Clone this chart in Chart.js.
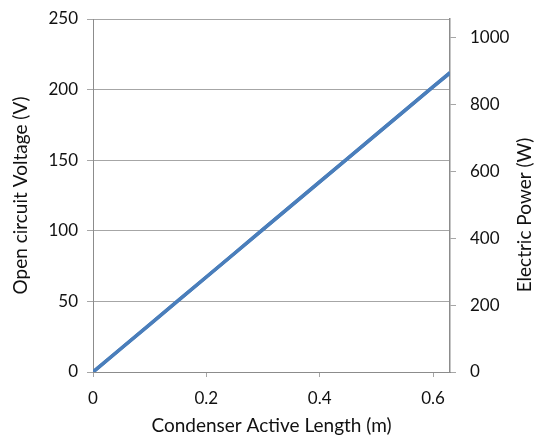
<!DOCTYPE html>
<html>
<head>
<meta charset="utf-8">
<script src="https://cdn.jsdelivr.net/npm/chart.js@4"></script>
<style>
  html,body{margin:0;padding:0;background:#fff;}
  #wrap{width:535px;height:437px;}
</style>
</head>
<body>
<div id="wrap"><canvas id="chart" width="535" height="437"></canvas></div>
<script>
// condenser active length (m)
const lengths = [0, 0.05, 0.1, 0.15, 0.2, 0.25, 0.3, 0.35, 0.4, 0.45, 0.5, 0.55, 0.6, 0.63];
// open circuit voltage (V)
const voltage = [0, 16.8, 33.6, 50.5, 67.3, 84.1, 101, 117.8, 134.6, 151.4, 168.3, 185.1, 202, 212];
// electric power (W)
const power = [0, 71, 142, 213, 284, 355, 426, 497, 568, 639, 710, 781, 852, 894];

const xTicks = [0, 0.2, 0.4, 0.6];
const leftTicks = [0, 50, 100, 150, 200, 250];
const rightTicks = [0, 200, 400, 600, 800, 1000];

const GRAY = "#a6a6a6";
const AXIS = "#8c8c8c";
const BLUE = "#4a7ebb";
const FONT = "Lato, 'Open Sans', sans-serif";
const TXT = "#111";

// right-hand title reads bottom-to-top like the left one
const rightTitle = {
  id: "rightTitle",
  afterDraw(c){
    const ctx = c.ctx;
    ctx.save();
    ctx.translate(525, 215);
    ctx.rotate(-Math.PI/2);
    ctx.font = "19px " + FONT;
    ctx.fillStyle = TXT;
    ctx.textAlign = "center";
    ctx.textBaseline = "middle";
    ctx.fillText("Electric Power (W)", 0, 0);
    ctx.restore();
  }
};

new Chart(document.getElementById("chart"), {
  type: "line",
  data: {
    datasets: [
      {label: "Voltage", data: lengths.map((x,i)=>({x, y: voltage[i]})), yAxisID: "y",
       borderColor: BLUE, backgroundColor: BLUE, borderWidth: 3.5, pointRadius: 0, tension: 0},
      {label: "Power", data: lengths.map((x,i)=>({x, y: power[i]})), yAxisID: "y2",
       borderColor: BLUE, backgroundColor: BLUE, borderWidth: 3.5, pointRadius: 0, tension: 0}
    ]
  },
  options: {
    responsive: false,
    animation: false,
    layout: {padding: {top: 19, left: 0, right: 0, bottom: 0}},
    plugins: {legend: {display: false}, tooltip: {enabled: false}},
    scales: {
      x: {
        type: "linear", min: 0, max: 0.63,
        afterBuildTicks: a => { a.ticks = xTicks.map(v => ({value: v})); },
        afterFit: s => { s.height = 65; },
        grid: {drawOnChartArea: false, drawTicks: true, tickLength: 5, color: GRAY},
        border: {color: AXIS, width: 1},
        ticks: {color: TXT, font: {family: FONT, size: 17}, padding: 11, maxRotation: 0},
        title: {display: true, text: "Condenser Active Length (m)", color: TXT,
                font: {family: FONT, size: 19}, padding: {top: 0, bottom: 0}}
      },
      y: {
        type: "linear", position: "left", min: 0, max: 250,
        afterBuildTicks: a => { a.ticks = leftTicks.map(v => ({value: v})); },
        afterFit: s => { s.width = 93; s.paddingTop = 0; s.paddingBottom = 0; },
        grid: {color: GRAY, tickLength: 6},
        border: {color: AXIS, width: 1},
        ticks: {color: TXT, font: {family: FONT, size: 17}, padding: 9},
        title: {display: true, text: "Open circuit Voltage (V)", color: TXT,
                font: {family: FONT, size: 19}, padding: {top: 9, bottom: 0}}
      },
      y2: {
        type: "linear", position: "right", min: 0, max: 1055,
        afterBuildTicks: a => { a.ticks = rightTicks.map(v => ({value: v})); },
        afterFit: s => { s.width = 85; s.paddingTop = 0; s.paddingBottom = 0; },
        grid: {drawOnChartArea: false, color: GRAY, tickLength: 6},
        border: {color: AXIS, width: 1.5},
        ticks: {color: TXT, font: {family: FONT, size: 17}, padding: 14, callback: v => String(v)}
      }
    }
  },
  plugins: [rightTitle]
});
</script>
</body>
</html>
